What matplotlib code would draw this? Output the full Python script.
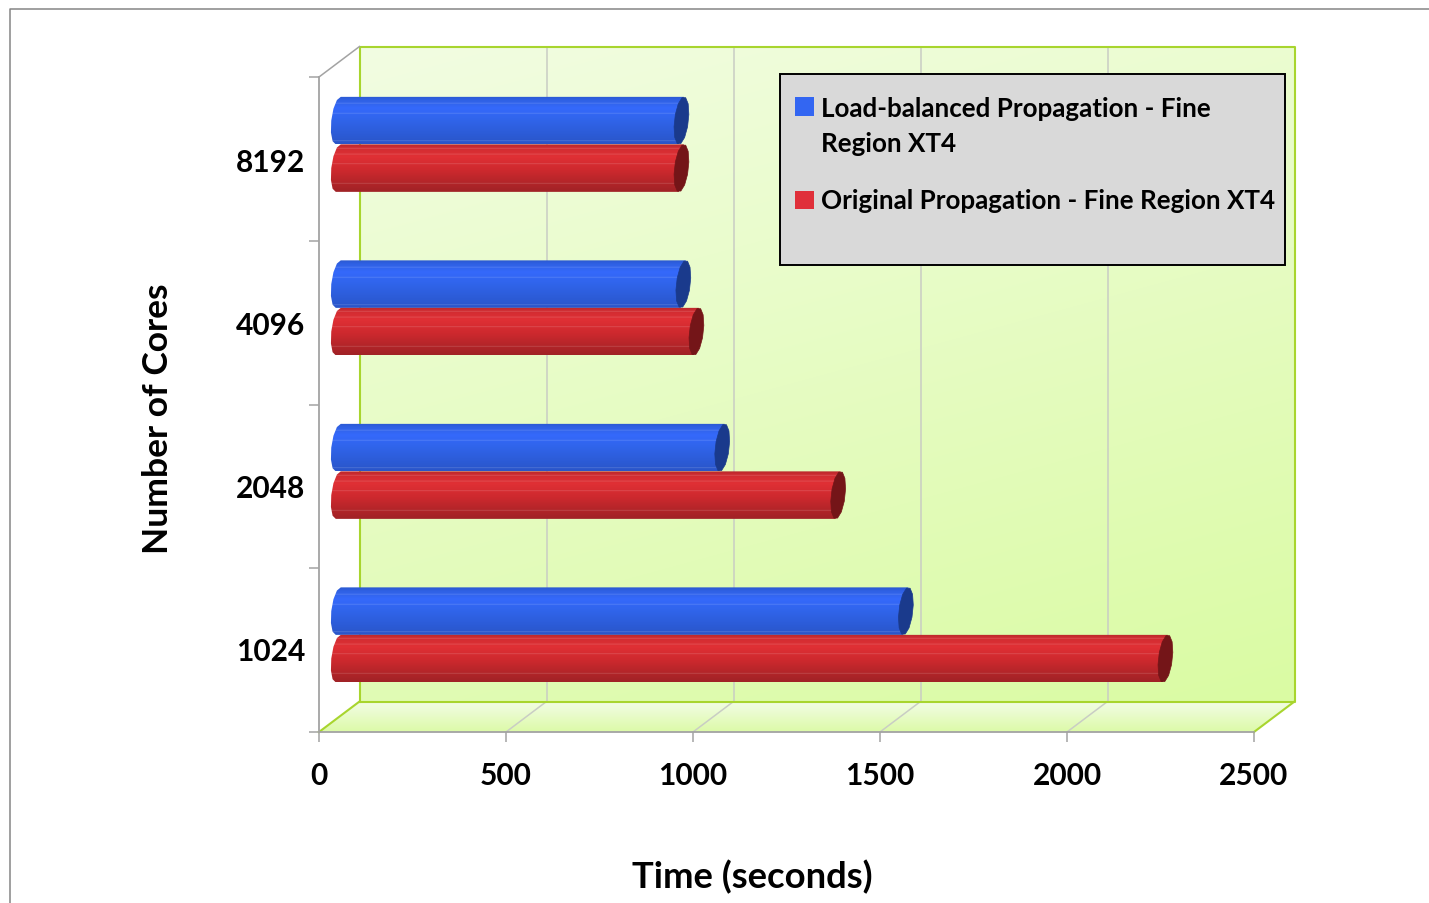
import numpy as np
import matplotlib
matplotlib.use("Agg")
import matplotlib.pyplot as plt
from matplotlib.patches import Polygon, Rectangle
from matplotlib.lines import Line2D

categories = ["1024", "2048", "4096", "8192"]
balanced = [1515, 1024, 920, 915]
original = [2209, 1334, 955, 915]
series_names = ["Load-balanced Propagation - Fine\nRegion XT4",
                "Original Propagation - Fine Region XT4"]
x_ticks = [0, 500, 1000, 1500, 2000, 2500]

W, H = 1429, 904
plt.rcParams["font.family"] = ["Lato", "DejaVu Sans"]
plt.rcParams["font.weight"] = "bold"
fig = plt.figure(figsize=(W / 100, H / 100), dpi=100, facecolor="white")

# page frame
fig.add_artist(Line2D([10 / W, 10 / W, 1], [0, 1 - 9.5 / H, 1 - 9.5 / H], color="#858585", lw=1.1))

L, R, T, B = 319, 1254, 78, 733
ax = fig.add_axes([L / W, 1 - B / H, (R - L) / W, (B - T) / H])
ax.patch.set_alpha(0)
XMAX = x_ticks[-1]
YMAX = len(categories)
px = XMAX / (R - L)          # data units per pixel in x
py = YMAX / (B - T)          # data units per pixel in y
DX, DY = 40.5 * px, 30.5 * py  # depth of the 3-D box


def cmap_rows(stops, n=200):
    f = np.linspace(0, 1, n)
    return np.array([np.interp(f, [s[0] for s in stops],
                               [matplotlib.colors.to_rgb(s[1])[c] for s in stops]) for c in range(3)]).T


# back wall with diagonal gradient
gx, gy = np.meshgrid(np.linspace(0, 1, 200), np.linspace(0, 1, 200))
t = np.clip(0.72 * gy + 0.28 * gx, 0, 1)[..., None]
c0 = np.array(matplotlib.colors.to_rgb("#f2fde2"))
c1 = np.array(matplotlib.colors.to_rgb("#dafba3"))
ax.imshow(c0 + (c1 - c0) * t, extent=(DX, XMAX + DX, DY, YMAX + DY), origin="upper",
          aspect="auto", interpolation="bilinear", zorder=1, clip_on=False)
# floor
floor_poly = Polygon([(0, 0), (XMAX, 0), (XMAX + DX, DY), (DX, DY)], closed=True,
                     transform=ax.transData, fc="none", ec="none")
ax.add_patch(floor_poly)
floor_rows = cmap_rows([(0, "#f3fde6"), (1, "#dcfaa8")])[:, None, :]
im = ax.imshow(floor_rows, extent=(0, XMAX + DX, 0, DY), origin="upper", aspect="auto",
               interpolation="bilinear", zorder=1.1)
im.set_clip_box(fig.bbox)
im.set_clip_path(floor_poly)

# gridlines on the wall and floor
for v in x_ticks[1:-1]:
    ax.plot([v + DX, v + DX], [DY, YMAX + DY], color="#c9cdc4", lw=1.1, zorder=1.5, clip_on=False)
    ax.plot([v, v + DX], [0, DY], color="#c9cdc4", lw=1.1, zorder=1.5, clip_on=False)

# wall outline and side edges
GREEN = "#a8d52e"
ax.plot([DX, DX, XMAX + DX, XMAX + DX, DX], [DY, YMAX + DY, YMAX + DY, DY, DY],
        color=GREEN, lw=1.5, zorder=2, clip_on=False)
ax.plot([0, DX], [0, DY], color=GREEN, lw=1.5, zorder=2, clip_on=False)
ax.plot([XMAX, XMAX + DX], [0, DY], color=GREEN, lw=1.5, zorder=2, clip_on=False)
ax.plot([0, DX], [YMAX, YMAX + DY], color="#a3a3a3", lw=1.1, zorder=2, clip_on=False)

BAND = 47.5 * py
A, S = 7.0 * px, 2.5 * px


def cap_points(xc, yc):
    ang = np.linspace(0, 2 * np.pi, 13)[:-1] + np.pi / 12
    return np.c_[xc + A * np.cos(ang) + S * np.sin(ang), yc + BAND / 2 * np.sin(ang)]


def light_rows(stops, lines):
    rows = cmap_rows(stops)
    for f in lines:
        i = int(f * (len(rows) - 1))
        rows[i:i + 2] = rows[i:i + 2] * 0.72 + 0.28
    return rows[:, None, :]


BLUE_ROWS = light_rows([(0, "#2a58cf"), (.07, "#2f60e2"), (.25, "#3569fb"), (.5, "#3064ea"),
                        (.8, "#2c5bd6"), (1, "#2a55c8")], [.15, .36, .93])
RED_ROWS = light_rows([(0, "#b8282c"), (.08, "#d02c31"), (.25, "#e03035"), (.55, "#cd292e"),
                       (.85, "#ae2428"), (1, "#a02226")], [.09, .21, .41, .82])


def bar(value, yc, rows, cap, z):
    x0 = DX / 2 - px
    xe = x0 + value + px
    ang = np.linspace(np.pi / 2, 3 * np.pi / 2, 7)
    left = np.c_[x0 + A * np.cos(ang) + S * np.sin(ang), yc + BAND / 2 * np.sin(ang)]
    pts = np.vstack([left, [[xe - S, yc - BAND / 2], [xe + S, yc + BAND / 2]]])
    body = Polygon(pts, closed=True, fc="none", ec="none", zorder=z, clip_on=False)
    ax.add_patch(body)
    img = ax.imshow(rows, extent=(x0 - 2 * A, xe + 2 * A, yc - BAND / 2, yc + BAND / 2), origin="upper",
                    aspect="auto", interpolation="bilinear", zorder=z)
    img.set_clip_path(body)
    ax.add_patch(Polygon(cap_points(xe, yc), closed=True, fc=cap, ec=cap, lw=0.5, zorder=z + 0.01, clip_on=False))


z = 3.0
for i in range(len(categories) - 1, -1, -1):
    centre = 0.5 + i * 0.9985 + DY / 2
    bar(balanced[i], centre + BAND / 2, BLUE_ROWS, "#1a3a8c", z)
    z += 0.1
    bar(original[i], centre - BAND / 2, RED_ROWS, "#741518", z)
    z += 0.1

ax.set_xlim(0, XMAX)
ax.set_ylim(0, YMAX)

# axes
for s in ("top", "right"):
    ax.spines[s].set_visible(False)
for s in ("left", "bottom"):
    ax.spines[s].set_color("#a3a3a3")
    ax.spines[s].set_linewidth(1.3)
    ax.spines[s].set_zorder(2.5)
ax.set_xticks(x_ticks)
ax.set_xticklabels([str(v) for v in x_ticks], fontsize=21.5, fontweight="bold")
ax.set_yticks(range(len(categories) + 1))
ax.set_yticklabels([])
ax.set_yticks(0.512 + np.arange(len(categories)) * 0.994, minor=True)
ax.set_yticklabels(categories, minor=True, fontsize=21.5, fontweight="bold")
ax.tick_params(axis="x", length=7.5, width=1.1, color="#a3a3a3", pad=13.5)
ax.tick_params(axis="y", which="major", length=7.5, width=1.1, color="#a3a3a3")
ax.tick_params(axis="y", which="minor", length=0, pad=10)
ax.set_xlabel("Time (seconds)", fontsize=26.2, fontweight="bold")
ax.xaxis.set_label_coords((752 - L) / (R - L), (B - 877.5) / (B - T))
ax.xaxis.label.set_verticalalignment("center")
ax.set_ylabel("Number of Cores", fontsize=25.5, fontweight="bold")
ax.yaxis.set_label_coords((158 - L) / (R - L), (B - 419) / (B - T))
ax.yaxis.label.set_verticalalignment("center")


# legend box (figure coordinates via pixels)
def fx(p): return p / W
def fy(p): return 1 - p / H


fig.add_artist(Rectangle((fx(780), fy(265.5)), 505 / W, 190 / H, transform=fig.transFigure,
                         fc="#d9d9d9", ec="black", lw=1.4, zorder=5))
fig.add_artist(Rectangle((fx(795), fy(116.5)), 19 / W, 19 / H, transform=fig.transFigure,
                         fc="#3366f2", ec="none", zorder=6))
fig.add_artist(Rectangle((fx(795), fy(209.5)), 19 / W, 18 / H, transform=fig.transFigure,
                         fc="#e0303a", ec="none", zorder=6))
line1, line2 = series_names[0].split("\n")
for txt, yy in [(line1, 109), (line2, 144), (series_names[1], 201)]:
    fig.text(fx(821), fy(yy), txt, fontsize=18.75, fontweight="bold", va="center", ha="left", zorder=7)

fig.savefig("out.png", dpi=100)
